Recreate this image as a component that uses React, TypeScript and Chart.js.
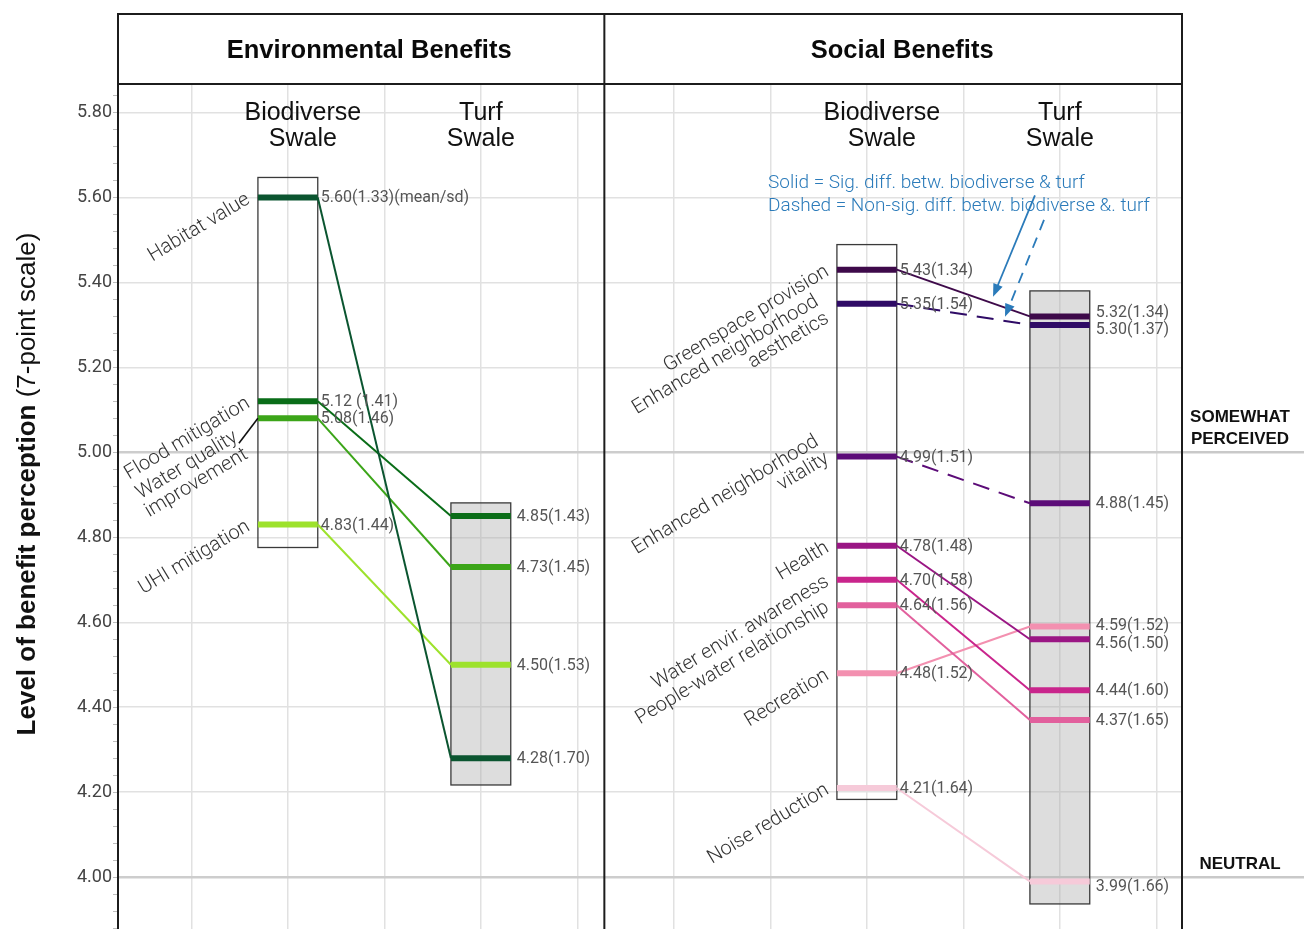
import React, { useEffect, useRef } from "react";
import { Chart, registerables } from "chart.js";

Chart.register(...registerables);

// ---------------- data ----------------
const panelTitles = ["Environmental Benefits", "Social Benefits"];
const swaleTypes = ["Biodiverse\nSwale", "Turf\nSwale"];

const envBenefits = ["Habitat value", "Flood mitigation", "Water quality\nimprovement", "UHI mitigation"];
const envBioMean = [5.6, 5.12, 5.08, 4.83];
const envBioSd = [1.33, 1.41, 1.46, 1.44];
const envTurfMean = [4.28, 4.85, 4.73, 4.5];
const envTurfSd = [1.7, 1.43, 1.45, 1.53];
const envSignificant = [true, true, true, true];
const envColors = ["#0b5530", "#0a6d18", "#3ca519", "#9de22c"];
const envBoxRanges = [[4.776, 5.647], [4.217, 4.881]];

const socBenefits = [
  "Greenspace provision",
  "Enhanced neighborhood\naesthetics",
  "Enhanced neighborhood\nvitality",
  "Health",
  "Water envir. awareness",
  "People-water relationship",
  "Recreation",
  "Noise reduction",
];
const socBioMean = [5.43, 5.35, 4.99, 4.78, 4.7, 4.64, 4.48, 4.21];
const socBioSd = [1.34, 1.54, 1.51, 1.48, 1.58, 1.56, 1.52, 1.64];
const socTurfMean = [5.32, 5.3, 4.88, 4.56, 4.44, 4.37, 4.59, 3.99];
const socTurfSd = [1.34, 1.37, 1.45, 1.5, 1.6, 1.65, 1.52, 1.66];
const socSignificant = [true, false, false, true, true, true, true, true];
const socColors = ["#3e0a4a", "#2f0b66", "#5c0c78", "#9a1684", "#c9258c", "#e2609d", "#f390b0", "#f6cad9"];
const socBoxRanges = [[4.183, 5.489], [3.937, 5.38]];

const refLevels = [5, 4];
const refLabels = ["SOMEWHAT\nPERCEIVED", "NEUTRAL"];
const yMin = 3.878;
const yMax = 5.867;
const yStep = 0.2;
const yTitleBold = "Level of benefit perception";
const yTitleRest = " (7-point scale)";
const noteLines = ["Solid = Sig. diff. betw. biodiverse & turf", "Dashed = Non-sig. diff. betw. biodiverse &. turf"];
const firstLabelSuffix = "(mean/sd)";
const envBioLabelSep = ["", " ", "", ""];

// ---------------- layout ----------------
const W = 1304;
const H = 929;
const HALF = 0.155;
const PANEL_LOCAL = [[0.12, 2.64], [-0.36, 2.633]];
const PANEL_OFFSET = [-PANEL_LOCAL[0][0], PANEL_LOCAL[0][1] - PANEL_LOCAL[0][0] - PANEL_LOCAL[1][0]];
const X_MAX = PANEL_OFFSET[1] + PANEL_LOCAL[1][1];
const DIVIDER = PANEL_LOCAL[0][1] - PANEL_LOCAL[0][0];
const GRID_LOCAL = [[0.5, 1, 1.5, 2, 2.5], [0, 0.5, 1, 1.5, 2, 2.5]];
const gx = (k: number, p: number) => p + PANEL_OFFSET[k];

// pixel nudges for labels (layout only)
const catNudge: Record<string, [number, number]> = { "0-2": [-2, 34], "1-1": [0, 13] };
const leaderFor = ["0-2"];
const turfLabelNudge: Record<string, number> = { "1-0": -4, "1-1": 4, "1-3": 4, "1-6": -2, "1-7": 5 };
// annotation arrows in right-panel local coords
const arrowSolid = [[1.871, 5.605], [1.654, 5.366]];
const arrowDashed = [[1.918, 5.547], [1.716, 5.319]];
const noteAnchor = [0.488, 5.634];

const groups = [
  { names: envBenefits, bio: envBioMean, bioSd: envBioSd, turf: envTurfMean, turfSd: envTurfSd, sig: envSignificant, colors: envColors, boxes: envBoxRanges },
  { names: socBenefits, bio: socBioMean, bioSd: socBioSd, turf: socTurfMean, turfSd: socTurfSd, sig: socSignificant, colors: socColors, boxes: socBoxRanges },
];

const VALUE_FONT = "16px Roboto, 'Liberation Sans', sans-serif";
const CAT_FONT = "300 20px Roboto, 'Liberation Sans', sans-serif";
const ARIAL = "'Liberation Sans', Arial, sans-serif";
const BLUE = "#2b7bba";

function drawArrow(ctx: CanvasRenderingContext2D, x0: number, y0: number, x1: number, y1: number, dashed: boolean) {
  const dx = x1 - x0, dy = y1 - y0;
  const len = Math.hypot(dx, dy);
  const ux = dx / len, uy = dy / len;
  const head = 13;
  ctx.save();
  ctx.strokeStyle = BLUE;
  ctx.fillStyle = BLUE;
  ctx.lineWidth = 1.8;
  ctx.setLineDash(dashed ? [11, 8] : []);
  ctx.beginPath();
  ctx.moveTo(x0, y0);
  ctx.lineTo(x1 - ux * head * 0.8, y1 - uy * head * 0.8);
  ctx.stroke();
  ctx.setLineDash([]);
  ctx.beginPath();
  ctx.moveTo(x1, y1);
  ctx.lineTo(x1 - ux * head - uy * 5, y1 - uy * head + ux * 5);
  ctx.lineTo(x1 - ux * head + uy * 5, y1 - uy * head - ux * 5);
  ctx.closePath();
  ctx.fill();
  ctx.restore();
}

const overlay = {
  id: "overlay",
  beforeDatasetsDraw(chart: any) {
    const { ctx, scales } = chart;
    const x = scales.x, y = scales.y;
    groups.forEach((g, k) => {
      g.boxes.forEach((r, j) => {
        const p = j + 1;
        const x0 = x.getPixelForValue(gx(k, p) - HALF);
        const x1 = x.getPixelForValue(gx(k, p) + HALF);
        const y0 = y.getPixelForValue(r[1]);
        const y1 = y.getPixelForValue(r[0]);
        ctx.save();
        if (j === 1) {
          ctx.fillStyle = "rgba(170,170,170,0.4)";
          ctx.fillRect(x0, y0, x1 - x0, y1 - y0);
        }
        ctx.strokeStyle = "#3a3a3a";
        ctx.lineWidth = 1.3;
        ctx.strokeRect(x0, y0, x1 - x0, y1 - y0);
        ctx.restore();
      });
    });
  },
  afterDatasetsDraw(chart: any) {
    const { ctx, scales } = chart;
    const x = scales.x, y = scales.y;
    groups.forEach((g, k) => {
      const bx0 = x.getPixelForValue(gx(k, 1) - HALF);
      const bx1 = x.getPixelForValue(gx(k, 1) + HALF);
      const tx1 = x.getPixelForValue(gx(k, 2) + HALF);
      g.bio.forEach((b, i) => {
        const by = y.getPixelForValue(b);
        const ty = y.getPixelForValue(g.turf[i]);
        ctx.save();
        ctx.font = VALUE_FONT;
        ctx.fillStyle = "#555";
        ctx.textAlign = "left";
        ctx.textBaseline = "middle";
        const sep = k === 0 ? envBioLabelSep[i] : "";
        let bl = `${b.toFixed(2)}${sep}(${g.bioSd[i].toFixed(2)})`;
        if (k === 0 && i === 0) bl += firstLabelSuffix;
        ctx.fillText(bl, bx1 + 3, by + 1);
        const tn = turfLabelNudge[`${k}-${i}`] || 0;
        ctx.fillText(`${g.turf[i].toFixed(2)}(${g.turfSd[i].toFixed(2)})`, tx1 + 6, ty + 1 + tn);
        ctx.restore();

        // category label (rotated)
        const key = `${k}-${i}`;
        const nd = catNudge[key] || [0, 0];
        const ax = bx0 - 7 + nd[0];
        const ay = by + 5 + nd[1];
        const lines = g.names[i].split("\n");
        ctx.save();
        ctx.translate(ax, ay);
        ctx.rotate((-31 * Math.PI) / 180);
        ctx.font = CAT_FONT;
        ctx.fillStyle = "#333";
        ctx.textAlign = "right";
        ctx.textBaseline = "alphabetic";
        lines.forEach((ln, j) => ctx.fillText(ln, 0, -(lines.length - 1 - j) * 20));
        ctx.restore();
        if (leaderFor.includes(key)) {
          ctx.save();
          ctx.strokeStyle = "#111";
          ctx.lineWidth = 1.6;
          ctx.beginPath();
          ctx.moveTo(bx0, by);
          ctx.lineTo(bx0 - 19, by + 25);
          ctx.stroke();
          ctx.restore();
        }
      });
    });

    // note + arrows (right panel)
    ctx.save();
    ctx.font = "300 19px Roboto, 'Liberation Sans', sans-serif";
    ctx.fillStyle = BLUE;
    ctx.textAlign = "left";
    ctx.textBaseline = "middle";
    const nx = x.getPixelForValue(gx(1, noteAnchor[0]));
    const ny = y.getPixelForValue(noteAnchor[1]);
    noteLines.forEach((t, j) => ctx.fillText(t, nx, ny + j * 23));
    ctx.restore();
    const pt = (a: number[]) => [x.getPixelForValue(gx(1, a[0])), y.getPixelForValue(a[1])];
    const s0 = pt(arrowSolid[0]), s1 = pt(arrowSolid[1]);
    const d0 = pt(arrowDashed[0]), d1 = pt(arrowDashed[1]);
    drawArrow(ctx, s0[0], s0[1], s1[0], s1[1], false);
    drawArrow(ctx, d0[0], d0[1], d1[0], d1[1], true);
  },
  afterDraw(chart: any) {
    const { ctx, scales, chartArea } = chart;
    const x = scales.x, y = scales.y;
    const L = chartArea.left, R = chartArea.right, B = H;
    const T = 14, HB = chartArea.top;
    const D = x.getPixelForValue(DIVIDER);

    // reference line extensions + labels
    refLevels.forEach((lv, j) => {
      const py = y.getPixelForValue(lv);
      ctx.save();
      ctx.strokeStyle = "#c9c9c9";
      ctx.lineWidth = 2.5;
      ctx.beginPath();
      ctx.moveTo(R, py);
      ctx.lineTo(W, py);
      ctx.stroke();
      ctx.font = `bold 17px ${ARIAL}`;
      ctx.fillStyle = "#111";
      ctx.textAlign = "center";
      ctx.textBaseline = "middle";
      const lines = refLabels[j].split("\n");
      lines.forEach((t, n) => ctx.fillText(t, 1240, py - 13 - (lines.length - 1 - n) * 22));
      ctx.restore();
    });

    // minor ticks on the left border
    ctx.save();
    ctx.strokeStyle = "#bdbdbd";
    ctx.lineWidth = 1;
    for (let v = 3.88; v <= yMax; v += 0.04) {
      const py = Math.round(y.getPixelForValue(v)) + 0.5;
      ctx.beginPath();
      ctx.moveTo(L - 5, py);
      ctx.lineTo(L, py);
      ctx.stroke();
    }
    ctx.restore();

    // header strip & frame
    ctx.save();
    ctx.fillStyle = "#fff";
    ctx.fillRect(L, T, R - L, HB - T);
    ctx.strokeStyle = "#1c1c1c";
    ctx.lineWidth = 2;
    ctx.beginPath();
    ctx.moveTo(L, B); ctx.lineTo(L, T); ctx.lineTo(R, T); ctx.lineTo(R, B);
    ctx.moveTo(D, T); ctx.lineTo(D, B);
    ctx.moveTo(L, HB); ctx.lineTo(R, HB);
    ctx.stroke();
    ctx.font = `bold 25.5px ${ARIAL}`;
    ctx.fillStyle = "#0a0a0a";
    ctx.textAlign = "center";
    ctx.textBaseline = "middle";
    ctx.fillText(panelTitles[0], (L + D) / 2 + 8, (T + HB) / 2 + 2);
    ctx.fillText(panelTitles[1], (D + R) / 2 + 9, (T + HB) / 2 + 2);
    ctx.restore();

    // swale column headers
    ctx.save();
    ctx.font = `25px ${ARIAL}`;
    ctx.fillStyle = "#111";
    ctx.textAlign = "center";
    ctx.textBaseline = "middle";
    [0, 1].forEach((k) => {
      swaleTypes.forEach((s, j) => {
        const px = x.getPixelForValue(gx(k, j + 1)) + (j === 0 ? 15 : 0);
        s.split("\n").forEach((t, n) => ctx.fillText(t, px, 113 + n * 26));
      });
    });
    ctx.restore();

    // y axis title (mixed weight)
    ctx.save();
    ctx.translate(35, 484);
    ctx.rotate(-Math.PI / 2);
    ctx.textBaseline = "alphabetic";
    ctx.textAlign = "left";
    ctx.fillStyle = "#111";
    ctx.font = `bold 26px ${ARIAL}`;
    const w1 = ctx.measureText(yTitleBold).width;
    ctx.font = `26px ${ARIAL}`;
    const w2 = ctx.measureText(yTitleRest).width;
    const start = -(w1 + w2) / 2;
    ctx.font = `bold 26px ${ARIAL}`;
    ctx.fillText(yTitleBold, start, 0);
    ctx.font = `26px ${ARIAL}`;
    ctx.fillText(yTitleRest, start + w1, 0);
    ctx.restore();
  },
};

function buildDatasets() {
  const ds: any[] = [];
  groups.forEach((g, k) => {
    g.bio.forEach((b, i) => {
      const t = g.turf[i];
      const c = g.colors[i];
      ds.push({
        data: [{ x: gx(k, 1) + HALF, y: b }, { x: gx(k, 2) - HALF, y: t }],
        borderColor: c, borderWidth: 2, borderDash: g.sig[i] ? [] : [17, 10], order: 2,
      });
      ds.push({
        data: [{ x: gx(k, 1) - HALF, y: b }, { x: gx(k, 1) + HALF, y: b }],
        borderColor: c, borderWidth: 6, order: 1,
      });
      ds.push({
        data: [{ x: gx(k, 2) - HALF, y: t }, { x: gx(k, 2) + HALF, y: t }],
        borderColor: c, borderWidth: 6, order: 1,
      });
    });
  });
  return ds;
}

const isRef = (v: any) => typeof v === "number" && refLevels.some((r) => Math.abs(r - v) < 1e-6);

export default function App() {
  const ref = useRef<HTMLCanvasElement | null>(null);
  useEffect(() => {
    if (!ref.current) return;
    const gridXs = GRID_LOCAL.flatMap((arr, k) => arr.map((p) => gx(k, p)));
    const chart = new Chart(ref.current, {
      type: "line",
      data: { datasets: buildDatasets() },
      options: {
        responsive: false,
        maintainAspectRatio: false,
        devicePixelRatio: 1,
        animation: false,
        events: [],
        layout: { autoPadding: false, padding: { left: 8, top: 84, right: W - 1182, bottom: 0 } },
        elements: { point: { radius: 0 }, line: { tension: 0, borderCapStyle: "butt", fill: false } },
        plugins: { legend: { display: false }, tooltip: { enabled: false } },
        scales: {
          x: {
            type: "linear",
            min: 0,
            max: X_MAX,
            border: { display: false },
            grid: { color: "#e1e1e1", lineWidth: 1.5, drawTicks: false },
            ticks: { display: false, padding: 0 },
            afterBuildTicks: (s: any) => {
              s.ticks = gridXs.map((v) => ({ value: v }));
            },
            afterFit: (s: any) => {
              s.height = 0;
              s.paddingLeft = 0;
              s.paddingRight = 0;
              s.paddingTop = 0;
              s.paddingBottom = 0;
            },
          },
          y: {
            type: "linear",
            position: "left",
            min: yMin,
            max: yMax,
            border: { display: false },
            grid: {
              drawTicks: false,
              color: (c: any) => (isRef(c.tick && c.tick.value) ? "#cdcdcd" : "#e1e1e1"),
              lineWidth: (c: any) => (isRef(c.tick && c.tick.value) ? 2.5 : 1.5),
            },
            ticks: {
              stepSize: yStep,
              includeBounds: false,
              padding: 6,
              color: "#444",
              font: { family: "Roboto, 'Liberation Sans', sans-serif", size: 18 },
              callback: (v: any) => Number(v).toFixed(2),
            },
            afterFit: (s: any) => {
              s.width = 110;
              s.paddingTop = 0;
              s.paddingBottom = 0;
            },
          },
        },
      } as any,
      plugins: [overlay],
    });
    return () => chart.destroy();
  }, []);
  return (
    <div style={{ position: "absolute", left: 0, top: 0, width: W, height: H, background: "#fff" }}>
      <canvas ref={ref} width={W} height={H} style={{ width: W, height: H, display: "block" }} />
    </div>
  );
}
